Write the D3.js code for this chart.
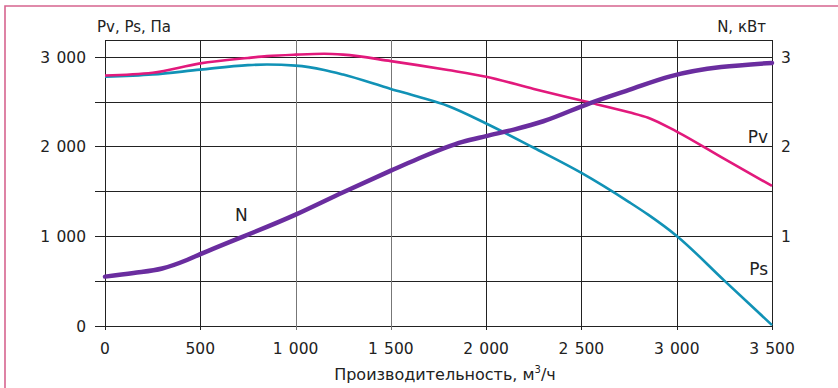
<!DOCTYPE html>
<html>
<head>
<meta charset="utf-8">
<script src="https://cdn.jsdelivr.net/npm/d3@7"></script>
<style>
  body { margin: 0; background: #fff; }
  text { font-family: "DejaVu Sans", sans-serif; fill: #222; }
</style>
</head>
<body>
<div id="chart-container"></div>
<script>
// fan curve: pressure Pv, Ps (Pa) and power N (kW) vs airflow
const flow = [0, 250, 500, 750, 850, 1000, 1150, 1250, 1500, 1640, 1800, 2000, 2250, 2500, 2750, 2850, 3000, 3250, 3500];
const pv = [2790, 2820, 2925, 2985, 3005, 3022, 3032, 3022, 2950, 2905, 2850, 2775, 2640, 2510, 2380, 2320, 2165, 1860, 1560];
const ps = [2775, 2800, 2855, 2905, 2912, 2900, 2852, 2800, 2640, 2555, 2450, 2255, 1985, 1705, 1380, 1240, 1003, 505, 10];

const nFlow = [0, 150, 300, 430, 500, 1000, 1250, 1500, 1640, 1876, 2000, 2150, 2300, 2546, 2750, 2966, 3500];
const nPower = [0.55, 0.59, 0.64, 0.735, 0.80, 1.24, 1.49, 1.73, 1.86, 2.05, 2.115, 2.19, 2.28, 2.483, 2.63, 2.78, 2.93];

const xTicks = [0, 500, 1000, 1500, 2000, 2500, 3000, 3500];
const yTicks = [0, 1000, 2000, 3000];
const yGrid = [0, 500, 1000, 1500, 2000, 2500, 3000];
const nTicks = [1, 2, 3];

const svgWidth = 838;
const svgHeight = 388;
const margin = { top: 40, right: 66, bottom: 62, left: 105 };
const width = svgWidth - margin.left - margin.right;
const height = svgHeight - margin.top - margin.bottom;

const root = d3.select("#chart-container")
    .append("svg")
    .attr("width", svgWidth)
    .attr("height", svgHeight);

// pink frame, only top and left
root.append("path")
    .attr("d", `M5,${svgHeight} L5,6 L${svgWidth},6`)
    .attr("fill", "none")
    .attr("stroke", "#d6648f")
    .attr("stroke-width", 1.6);

const svg = root.append("g")
    .attr("transform", `translate(${margin.left},${margin.top})`);

const x = d3.scaleLinear().domain([0, 3500]).range([0, width]);
const y = d3.scaleLinear().domain([0, 3185]).range([height, 0]);
const yN = d3.scaleLinear().domain([0, 3.185]).range([height, 0]);

// grid
svg.selectAll(".hgrid")
    .data(yGrid.concat([3185]))
    .enter().append("line")
    .attr("x1", d => d === 3185 ? 0 : -10)
    .attr("x2", width)
    .attr("y1", d => Math.round(y(d)) + 0.5)
    .attr("y2", d => Math.round(y(d)) + 0.5)
    .attr("stroke", "#222")
    .attr("stroke-width", 1);

svg.selectAll(".vgrid")
    .data(xTicks)
    .enter().append("line")
    .attr("x1", d => Math.round(x(d)) + 0.5)
    .attr("x2", d => Math.round(x(d)) + 0.5)
    .attr("y1", 0)
    .attr("y2", height + 4)
    .attr("stroke", d => (d === 1000 || d === 1500) ? "#777" : "#222")
    .attr("stroke-width", 1);

// axis labels
svg.selectAll(".ylab")
    .data(yTicks)
    .enter().append("text")
    .attr("x", -19)
    .attr("y", d => y(d) + 6)
    .attr("text-anchor", "end")
    .attr("font-size", 15.5)
    .text(d => d3.format(",")(d).replace(",", "\u2009\u2009"));

svg.selectAll(".xlab")
    .data(xTicks)
    .enter().append("text")
    .attr("x", d => x(d))
    .attr("y", height + 28)
    .attr("text-anchor", "middle")
    .attr("font-size", 15.5)
    .text(d => d3.format(",")(d).replace(",", "\u2009\u2009"));

svg.selectAll(".nlab")
    .data(nTicks)
    .enter().append("text")
    .attr("x", width + 9)
    .attr("y", d => yN(d) + 6)
    .attr("font-size", 15.5)
    .text(d => d);

svg.append("text")
    .attr("x", -8)
    .attr("y", -8)
    .attr("font-size", 15)
    .text("Pv, Ps, Па");

svg.append("text")
    .attr("x", width - 6)
    .attr("y", -8)
    .attr("text-anchor", "end")
    .attr("font-size", 15)
    .text("N, кВт");

const xt = svg.append("text")
    .attr("x", 340)
    .attr("y", height + 54)
    .attr("text-anchor", "middle")
    .attr("font-size", 16);
xt.append("tspan").text("Производительность, м");
xt.append("tspan").attr("font-size", 10).attr("dy", -7).text("3");
xt.append("tspan").attr("dy", 7).text("/ч");

// curves
const line = d3.line()
    .x(d => x(d[0]))
    .y(d => y(d[1]))
    .curve(d3.curveMonotoneX);

const lineN = d3.line()
    .x(d => x(d[0]))
    .y(d => yN(d[1]))
    .curve(d3.curveMonotoneX);

svg.append("path")
    .datum(d3.zip(flow, ps))
    .attr("d", line)
    .attr("fill", "none")
    .attr("stroke", "#1192b6")
    .attr("stroke-width", 2.6);

svg.append("path")
    .datum(d3.zip(flow, pv))
    .attr("d", line)
    .attr("fill", "none")
    .attr("stroke", "#e2197c")
    .attr("stroke-width", 2.6);

svg.append("path")
    .datum(d3.zip(nFlow, nPower))
    .attr("d", lineN)
    .attr("fill", "none")
    .attr("stroke", "#6a2d9f")
    .attr("stroke-width", 4.5)
    .attr("stroke-linecap", "round");

// curve names
svg.append("text").attr("x", 130).attr("y", 181).attr("font-size", 17).text("N");
svg.append("text").attr("x", 663).attr("y", 103).attr("text-anchor", "end").attr("font-size", 17).text("Pv");
svg.append("text").attr("x", 663).attr("y", 235).attr("text-anchor", "end").attr("font-size", 17).text("Ps");
</script>
</body>
</html>
